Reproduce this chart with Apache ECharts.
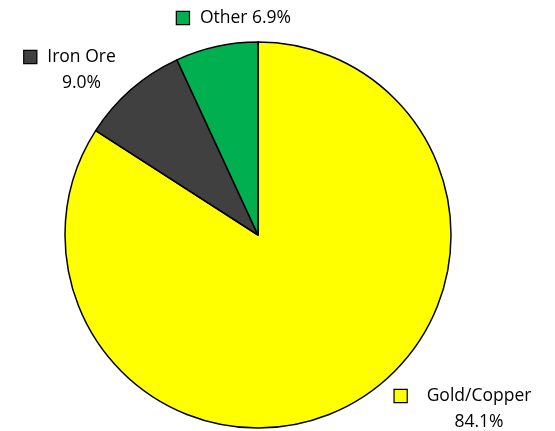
<!DOCTYPE html>
<html><head><meta charset="utf-8">
<script src="https://cdn.jsdelivr.net/npm/echarts@6/dist/echarts.min.js"></script>
<style>html,body{margin:0;padding:0;background:#fff}#c{width:555px;height:431px}</style>
</head><body><div id="c"></div>
<script>
const categories = ['Gold/Copper', 'Iron Ore', 'Other'];
const values = [84.1, 9.0, 6.9];
const colors = ['#FFFF00', '#404040', '#00B050'];
const labelPos = [{x: 463, y: 409}, {x: 70, y: 70}, {x: 234, y: 18}];

const chart = echarts.init(document.getElementById('c'), null, {renderer: 'canvas'});
const data = categories.map((n, i) => ({
  name: n, value: values[i],
  itemStyle: {color: colors[i]},
  label: {
    formatter: i === 2
      ? '{sq' + i + '|}{gap1|}{t|' + n + ' ' + values[i].toFixed(1) + '%}'
      : '{sq' + i + '|}{gap' + (i === 0 ? 0 : 1) + '|}{t|' + n + '}\n{pad' + (i === 0 ? 0 : 1) + '|}{t|' + values[i].toFixed(1) + '%}'
  }
}));
const rich = {
  t: {fontFamily: 'Open Sans', fontSize: 17.5, color: '#000', lineHeight: 26},
  gap0: {width: 20}, gap1: {width: 11},
  pad0: {width: 32}, pad1: {width: 23}
};
colors.forEach((c, i) => {
  rich['sq' + i] = {width: 12, height: 12, backgroundColor: c, borderColor: '#000', borderWidth: 1.2};
});
chart.setOption({
  animation: false,
  series: [{
    type: 'pie',
    center: [258, 235],
    radius: [0, 193],
    startAngle: 90,
    clockwise: true,
    data: data,
    itemStyle: {borderColor: '#000', borderWidth: 1.5},
    label: {show: true, position: 'outside', rich: rich, align: 'center', overflow: 'none', bleedMargin: 0},
    labelLine: {show: false},
    labelLayout: function (p) {
      const pos = labelPos[p.dataIndex];
      return {x: pos.x, y: pos.y, align: 'center', verticalAlign: 'middle'};
    },
    emphasis: {disabled: true}
  }]
});
</script></body></html>
